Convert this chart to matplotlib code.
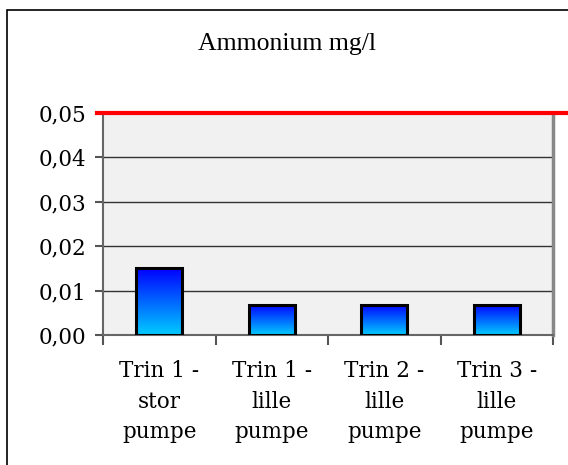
import numpy as np
import matplotlib.pyplot as plt
from matplotlib.patches import Rectangle

kategorier = ["Trin 1 -\nstor\npumpe", "Trin 1 -\nlille\npumpe",
              "Trin 2 -\nlille\npumpe", "Trin 3 -\nlille\npumpe"]
ammonium = [0.015, 0.0068, 0.0068, 0.0068]
graensevaerdi = 0.05
y_ticks = [0.00, 0.01, 0.02, 0.03, 0.04, 0.05]

fig = plt.figure(figsize=(5.68, 4.65), dpi=100)
# ramme om hele diagrammet
fig.patches.append(Rectangle((7 / 568, -0.1), 1.2, 1 - 10 / 465 + 0.1,
                             transform=fig.transFigure, fill=False,
                             edgecolor="black", linewidth=1.2))
fig.text(287 / 568, 1 - 44 / 465, "Ammonium mg/l", ha="center", va="center",
         fontsize=18.5, family="Liberation Serif")

ax = fig.add_axes([103 / 568, 1 - 335 / 465, 450 / 568, 222 / 465])
ax.set_facecolor("#f1f1f1")
x = np.arange(len(kategorier))

# gradient fra blaa til cyan i soejlerne
grad = np.linspace(0, 1, 256).reshape(-1, 1)
cmap = plt.matplotlib.colors.LinearSegmentedColormap.from_list("bc", ["#00ccff", "#0000ff"])
bars = ax.bar(x, ammonium, width=0.41, facecolor="none", edgecolor="black",
              linewidth=2.2, zorder=3)
for b in bars:
    x0, y0 = b.get_x(), b.get_y()
    im = ax.imshow(grad, cmap=cmap, origin="lower", aspect="auto",
                   extent=[x0, x0 + b.get_width(), y0, y0 + b.get_height()], zorder=2)
    im.set_clip_path(b)
ax.set_xlim(-0.5, len(kategorier) - 0.5)
ax.set_ylim(0, 0.05)

for v in y_ticks[1:-1]:
    ax.axhline(v, color="#333333", linewidth=1, zorder=1)
ax.plot([-0.553, 3.63], [graensevaerdi, graensevaerdi], color="#ff0000",
        linewidth=3, clip_on=False, zorder=5)

ax.set_yticks(y_ticks)
ax.set_yticklabels([f"{v:.2f}".replace(".", ",") for v in y_ticks],
                   family="DejaVu Serif", fontsize=15.5)
ax.set_xticks(np.arange(len(kategorier) + 1) - 0.5)
ax.set_xticklabels([])
ax.set_xticks(x, minor=True)
ax.set_xticklabels(kategorier, minor=True, family="DejaVu Serif", fontsize=15.5,
                   linespacing=1.5)
ax.tick_params(axis="x", which="minor", length=0, pad=18)
ax.tick_params(axis="x", which="major", length=7, color="#555555", width=1.5)
ax.tick_params(axis="y", length=6, color="#555555", width=1.5, pad=6)

for s in ["left", "bottom"]:
    ax.spines[s].set_color("#666666")
    ax.spines[s].set_linewidth(1.5)
ax.spines["right"].set_color("#888888")
ax.spines["right"].set_linewidth(2.5)
ax.spines["top"].set_visible(False)

fig.savefig("out.png", dpi=100)
